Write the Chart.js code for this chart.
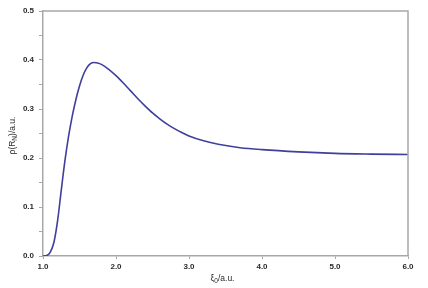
<!DOCTYPE html>
<html>
<head>
<meta charset="utf-8">
<script src="https://cdn.jsdelivr.net/npm/chart.js@4"></script>
<style>
  html, body { margin: 0; padding: 0; background: #fff; }
  #wrap { width: 428px; height: 288px; position: relative; }
</style>
</head>
<body>
<div id="wrap"><canvas id="chart"></canvas></div>
<script>
// ── Data ──────────────────────────────────────────────────────────────────────
const XI = [1.0, 1.05, 1.1, 1.15, 1.2, 1.25, 1.3, 1.35, 1.4, 1.45, 1.5, 1.55, 1.6, 1.65, 1.7, 1.75,
            1.8, 1.9, 2.0, 2.1, 2.2, 2.3, 2.4, 2.5, 2.6, 2.7, 2.8, 2.9, 3.0, 3.2, 3.4, 3.7, 4.0, 4.5, 5.0, 5.5, 6.0];
const RHO = [0.0, 0.001, 0.008, 0.028, 0.072, 0.134, 0.194, 0.244, 0.285, 0.319, 0.347, 0.369, 0.384, 0.3925, 0.395, 0.394,
             0.391, 0.381, 0.368, 0.353, 0.337, 0.321, 0.306, 0.292, 0.28, 0.269, 0.26, 0.252, 0.245, 0.235, 0.228, 0.221, 0.217,
             0.2125, 0.2095, 0.208, 0.207];

const X_TICKS = [1, 2, 3, 4, 5, 6];
const Y_RANGE = [0, 0.5];

const AXIS_GREY = '#a8a8a8';
const TEXT = '#2a2a2a';
const FONT = "'Liberation Sans', Arial, sans-serif";

// ── Frame + axis titles with subscripts ───────────────────────────────────────
function drawSub(ctx, parts, x, y) {
  // parts: [[text, isSub], ...]; drawn centred on x
  const big = `8.5px ${FONT}`, small = `6.5px ${FONT}`;
  let w = 0;
  parts.forEach(([t, s]) => { ctx.font = s ? small : big; w += ctx.measureText(t).width; });
  let cx = x - w / 2;
  parts.forEach(([t, s]) => {
    ctx.font = s ? small : big;
    ctx.fillText(t, cx, s ? y + 2.5 : y);
    cx += ctx.measureText(t).width;
  });
}

const framePlugin = {
  id: 'frame',
  afterDraw(chart) {
    const { ctx, chartArea: a } = chart;
    ctx.save();
    ctx.strokeStyle = AXIS_GREY;
    ctx.lineWidth = 1.5;
    ctx.beginPath();
    ctx.moveTo(a.left, a.top);
    ctx.lineTo(a.right, a.top);
    ctx.lineTo(a.right, a.bottom);
    ctx.stroke();

    ctx.fillStyle = TEXT;
    ctx.textBaseline = 'middle';
    ctx.textAlign = 'left';
    drawSub(ctx, [['ξ', false], ['0', true], ['/a.u.', false]], (a.left + a.right) / 2 - 3, 279);

    ctx.translate(13, (a.top + a.bottom) / 2 + 2);
    ctx.rotate(-Math.PI / 2);
    drawSub(ctx, [['ρ(R', false], ['N', true], [')/a.u.', false]], 0, 0);
    ctx.restore();
  }
};

new Chart(document.getElementById('chart'), {
  type: 'line',
  data: {
    datasets: [{
      data: XI.map((x, i) => ({ x, y: RHO[i] })),
      borderColor: '#3f3f9c',
      borderWidth: 1.6,
      pointRadius: 0,
      fill: false,
      cubicInterpolationMode: 'monotone'
    }]
  },
  options: {
    responsive: true,
    maintainAspectRatio: false,
    animation: false,
    parsing: false,
    layout: { padding: { top: 11, right: 20, left: 0, bottom: 0 } },
    plugins: { legend: { display: false }, tooltip: { enabled: false } },
    scales: {
      x: {
        type: 'linear',
        min: X_TICKS[0],
        max: X_TICKS[X_TICKS.length - 1],
        afterFit: s => { s.height = 32; },
        afterBuildTicks: s => { s.ticks = X_TICKS.map(v => ({ value: v })); },
        ticks: {
          color: TEXT,
          font: { family: FONT, size: 8, weight: 'bold' },
          padding: 3,
          maxRotation: 0,
          callback: v => v.toFixed(1)
        },
        grid: { drawOnChartArea: false, tickLength: 3, color: AXIS_GREY },
        border: { color: AXIS_GREY, width: 1.5 }
      },
      y: {
        min: Y_RANGE[0],
        max: Y_RANGE[1],
        afterFit: s => { s.width = 43; },
        ticks: {
          stepSize: 0.05,
          autoSkip: false,
          color: TEXT,
          font: { family: FONT, size: 8, weight: 'bold' },
          padding: 5,
          callback: v => Math.abs(v * 10 - Math.round(v * 10)) < 1e-6 ? v.toFixed(1) : ''
        },
        grid: { drawOnChartArea: false, tickLength: 4, color: AXIS_GREY },
        border: { color: AXIS_GREY, width: 1.5 }
      }
    }
  },
  plugins: [framePlugin]
});
</script>
</body>
</html>
